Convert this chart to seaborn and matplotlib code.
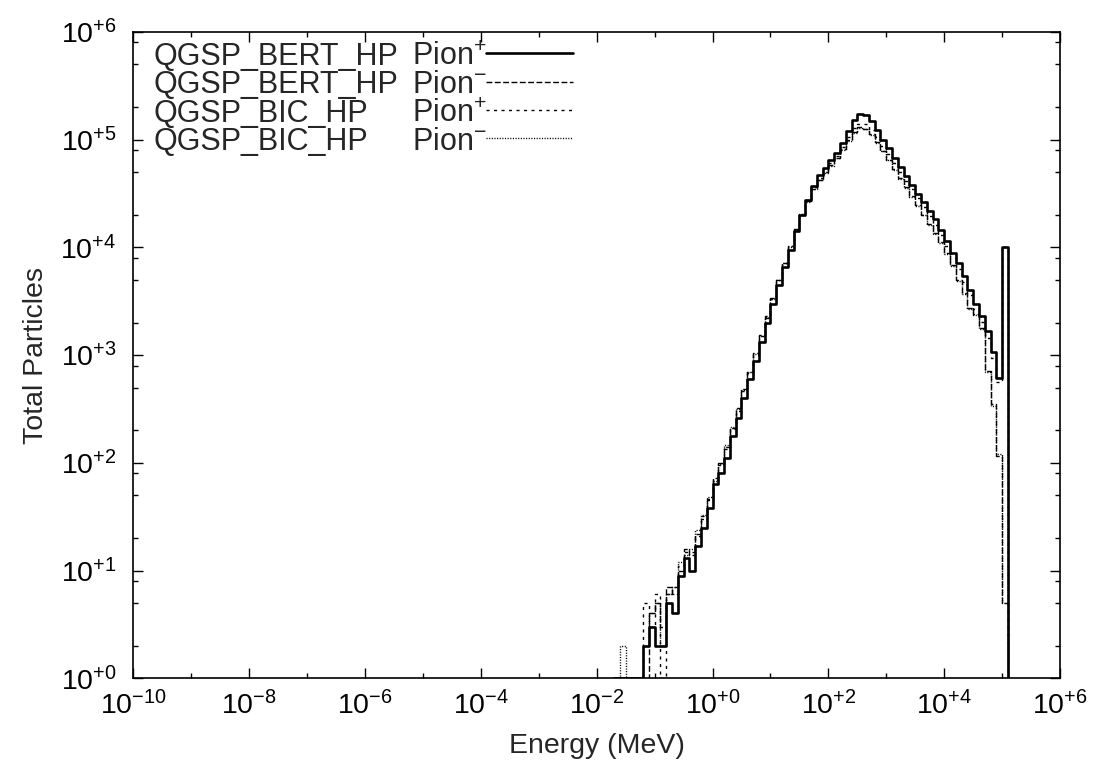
import matplotlib

matplotlib.use("Agg")
import matplotlib.pyplot as plt
import matplotlib.ticker as mticker
import numpy as np
import seaborn as sns

# bins are 0.1 decade wide; edges 10^-1.7 ... 10^5.1 (68 bins)
bin_exp = np.round(np.arange(-1.7, 5.15, 0.1), 1)

# counts per bin (rows of five bins, starting at 10^-1.7)
bert_pip = [
    0, 0, 0, 0, 0,
    2, 3, 2, 2, 5,
    4, 9, 13, 10, 17,
    25, 38, 63, 80, 112,
    178, 263, 400, 600, 890,
    1320, 2000, 3000, 4470, 6600,
    9550, 14100, 20000, 27500, 37000,
    46800, 55000, 64600, 75900, 93300,
    120000, 151000, 174000, 170000, 148000,
    123000, 100000, 83000, 67600, 56200,
    45700, 38000, 31600, 26300, 21900,
    18200, 14500, 11500, 8900, 7100,
    5400, 4000, 3000, 2300, 1660,
    1070, 620, 10000,
]
bert_pim = [
    0, 0, 0, 0, 0,
    1, 4, 5, 3, 7,
    6, 10, 16, 14, 22,
    30, 45, 72, 100, 140,
    210, 320, 480, 700, 1050,
    1550, 2300, 3400, 5000, 7200,
    10300, 14800, 20500, 27000, 35000,
    42500, 50000, 58000, 68000, 82000,
    100000, 118000, 130000, 127000, 112000,
    95000, 79000, 65000, 53000, 44000,
    36000, 30000, 24500, 20000, 16500,
    13500, 11200, 8900, 6800, 5000,
    3800, 2750, 2400, 1800, 720,
    355, 115, 5,
]
bic_pip = [
    0, 0, 0, 0, 0,
    5, 3, 6, 1, 6,
    7, 11, 15, 15, 21,
    32, 46, 70, 95, 135,
    205, 300, 460, 680, 1000,
    1500, 2200, 3300, 4900, 7100,
    10200, 14700, 20500, 27500, 36000,
    44000, 52000, 61000, 71000, 86000,
    106000, 128000, 141000, 139000, 124000,
    105000, 88000, 74000, 61000, 50000,
    41500, 34500, 28500, 23500, 19500,
    16200, 13000, 10300, 8000, 6300,
    4800, 3600, 2700, 2050, 1450,
    950, 560, 10000,
]
bic_pim = [
    0, 2, 0, 0, 0,
    2, 4, 5, 2, 6,
    7, 12, 14, 16, 24,
    33, 48, 68, 98, 145,
    215, 315, 470, 690, 1030,
    1520, 2250, 3350, 4950, 7150,
    10100, 14500, 20000, 26500, 34500,
    42000, 49500, 57500, 67000, 81000,
    98000, 116000, 128000, 126000, 111000,
    94000, 78000, 64500, 52500, 43500,
    35500, 29500, 24000, 19800, 16200,
    13300, 11000, 8700, 6700, 4900,
    3700, 2700, 2350, 1750, 700,
    340, 120, 5,
]

models = ["QGSP_BERT_HP", "QGSP_BERT_HP", "QGSP_BIC_HP", "QGSP_BIC_HP"]
particles = ["Pion$^{+}$", "Pion$^{-}$", "Pion$^{+}$", "Pion$^{-}$"]

FS = 20.5
KEY_FS = 22


def step_xy(counts):
    edges = 10.0 ** bin_exp
    c = np.clip(np.asarray(counts, dtype=float), 1, None)
    x = np.concatenate([[edges[0]], edges])
    y = np.concatenate([[1.0], c, [1.0]])
    return x, y


def main() -> None:
    sns.set_theme(style="ticks")
    plt.rcParams["font.family"] = ["Liberation Sans", "DejaVu Sans"]
    plt.rcParams["mathtext.fontset"] = "custom"
    plt.rcParams["mathtext.rm"] = "Liberation Sans"
    plt.rcParams["mathtext.it"] = "Liberation Sans:italic"
    plt.rcParams["mathtext.bf"] = "Liberation Sans:bold"

    fig, ax = plt.subplots(figsize=(10.96, 7.76), dpi=100)
    fig.subplots_adjust(left=0.1216, right=0.9672, bottom=0.1259, top=0.9588)
    ax.set_xscale("log")
    ax.set_yscale("log")

    styles = [
        dict(lw=1.9, linestyle="-"),
        dict(lw=1.0, linestyle=(0, (4.2, 1.8))),
        dict(lw=1.0, linestyle=(0, (2.2, 3.2))),
        dict(lw=1.0, linestyle=(0, (0.8, 1.1))),
    ]
    series = [bert_pip, bert_pim, bic_pip, bic_pim]
    for i in [3, 2, 1, 0]:
        x, y = step_xy(series[i])
        sns.lineplot(x=x, y=y, estimator=None, sort=False, drawstyle="steps-post",
                     color="black", ax=ax, zorder=2 + (3 - i) * 0.1, **styles[i])

    ax.set_xlim(1e-10, 1e6)
    ax.set_ylim(1, 1e6)
    fmt = mticker.FuncFormatter(lambda v, p: r"$\mathregular{10^{%+d}}$" % round(np.log10(v)))
    ax.xaxis.set_major_locator(mticker.FixedLocator(10.0 ** np.arange(-10, 7, 2)))
    ax.xaxis.set_minor_locator(mticker.FixedLocator(10.0 ** np.arange(-9, 6, 2)))
    ax.yaxis.set_major_locator(mticker.FixedLocator(10.0 ** np.arange(0, 7)))
    ax.yaxis.set_minor_locator(mticker.LogLocator(base=10, subs=(2, 5, 8)))
    ax.xaxis.set_major_formatter(fmt)
    ax.yaxis.set_major_formatter(fmt)
    ax.xaxis.set_minor_formatter(mticker.NullFormatter())
    ax.yaxis.set_minor_formatter(mticker.NullFormatter())
    ax.tick_params(which="both", direction="in", top=True, right=True, width=1, colors="black")
    ax.tick_params(which="major", length=7)
    ax.tick_params(which="minor", length=3.5)
    ax.tick_params(axis="x", which="major", pad=9, labelsize=FS)
    ax.tick_params(axis="y", which="major", pad=12, labelsize=FS)
    for sp in ax.spines.values():
        sp.set_linewidth(1.2)
        sp.set_color("black")
    ax.set_xlabel("Energy (MeV)", fontsize=FS, labelpad=9)
    ax.set_ylabel("Total Particles", fontsize=FS, labelpad=8)

    # gnuplot-style key, top left
    for k in range(4):
        yb = 0.949 - 0.0438 * k
        ax.text(0.0213, yb, models[k], transform=ax.transAxes, fontsize=KEY_FS, va="baseline", ha="left")
        ax.text(0.3005, yb, particles[k], transform=ax.transAxes, fontsize=KEY_FS, va="baseline", ha="left")
        ax.plot([0.381, 0.474], [yb + 0.0178] * 2, transform=ax.transAxes, color="black", **styles[k])

    fig.savefig("out.png", dpi=100)
    plt.close(fig)


if __name__ == "__main__":
    main()
